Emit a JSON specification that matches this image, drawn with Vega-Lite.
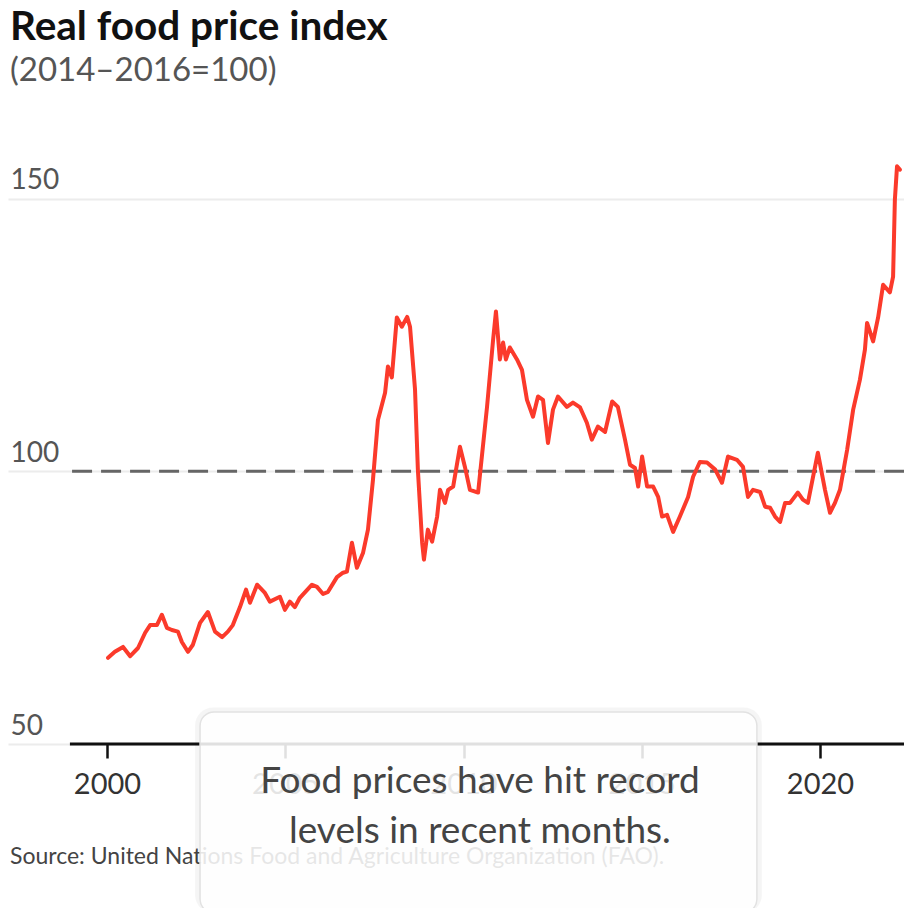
{
  "$schema": "https://vega.github.io/schema/vega-lite/v6.json",
  "autosize": "none",
  "width": 896,
  "height": 600,
  "padding": {"left": 8, "top": 144, "right": 0, "bottom": 164},
  "background": "white",
  "config": {
    "font": "Lato",
    "view": {"stroke": null},
    "axisX": {"ticks": true, "tickSize": 14, "tickWidth": 2.5, "tickColor": "#111111", "tickOpacity": 1, "tickCap": "butt"}
  },
  "title": {
    "text": "Real food price index",
    "subtitle": "(2014–2016=100)",
    "anchor": "start",
    "frame": "group",
    "dx": 2,
    "offset": 56,
    "font": "Lato",
    "fontSize": 40.5,
    "fontWeight": "bold",
    "color": "#111111",
    "subtitleFont": "Lato",
    "subtitleFontSize": 33,
    "subtitleColor": "#555555",
    "subtitlePadding": 7
  },
  "layer": [
    {
      "data": {"values": [{"level": 100}]},
      "mark": {"type": "rule", "color": "#666666", "strokeWidth": 3, "strokeDash": [20, 9]},
      "encoding": {
        "x": {"datum": 1999.02, "type": "quantitative", "scale": {"domain": [1997.223, 2022.356], "nice": false, "zero": false},
          "axis": {
            "title": null, "values": [2000, 2005, 2010, 2015, 2020], "format": "d",
            "domain": false, "grid": false,
            "ticks": true, "tickSize": 14, "tickWidth": 2.5, "tickColor": "#111111", "tickOpacity": 1,
            "labelFontSize": 29, "labelColor": "#333333", "labelPadding": 12, "labelFlush": false
          }},
        "x2": {"datum": 2022.356},
        "y": {"field": "level", "type": "quantitative", "scale": {"domain": [50, 160], "nice": false, "zero": false},
          "axis": {
            "title": null, "values": [50, 100, 150],
            "domain": false, "ticks": false,
            "grid": true, "gridColor": "#ececec", "gridWidth": 2,
            "labelAlign": "left", "labelBaseline": "alphabetic", "labelPadding": -2, "labelOffset": -10,
            "labelFontSize": 28, "labelColor": "#555555"
          }}
      }
    },
    {
      "data": {"values": [
        {"year": 2000.03, "index": 65.8}, {"year": 2000.22, "index": 66.9}, {"year": 2000.45, "index": 67.8}, {"year": 2000.65, "index": 66.1},
        {"year": 2000.87, "index": 67.6}, {"year": 2001.07, "index": 70.4}, {"year": 2001.21, "index": 71.8}, {"year": 2001.40, "index": 71.8},
        {"year": 2001.54, "index": 73.7}, {"year": 2001.68, "index": 71.3}, {"year": 2001.82, "index": 70.9}, {"year": 2001.99, "index": 70.6},
        {"year": 2002.10, "index": 68.7}, {"year": 2002.27, "index": 66.9}, {"year": 2002.41, "index": 68.2}, {"year": 2002.61, "index": 72.2},
        {"year": 2002.83, "index": 74.2}, {"year": 2003.03, "index": 70.6}, {"year": 2003.23, "index": 69.6}, {"year": 2003.39, "index": 70.6},
        {"year": 2003.53, "index": 71.8}, {"year": 2003.73, "index": 75.1}, {"year": 2003.90, "index": 78.3}, {"year": 2004.01, "index": 75.9},
        {"year": 2004.21, "index": 79.2}, {"year": 2004.43, "index": 77.7}, {"year": 2004.57, "index": 76.1}, {"year": 2004.85, "index": 77.0},
        {"year": 2004.99, "index": 74.6}, {"year": 2005.13, "index": 76.1}, {"year": 2005.27, "index": 75.1}, {"year": 2005.41, "index": 76.8},
        {"year": 2005.75, "index": 79.2}, {"year": 2005.89, "index": 78.8}, {"year": 2006.06, "index": 77.5}, {"year": 2006.20, "index": 77.9},
        {"year": 2006.45, "index": 80.6}, {"year": 2006.62, "index": 81.4}, {"year": 2006.73, "index": 81.6}, {"year": 2006.87, "index": 86.9},
        {"year": 2007.01, "index": 82.3}, {"year": 2007.18, "index": 85.0}, {"year": 2007.32, "index": 89.3}, {"year": 2007.46, "index": 98.4},
        {"year": 2007.60, "index": 109.4}, {"year": 2007.80, "index": 114.4}, {"year": 2007.88, "index": 119.2}, {"year": 2007.99, "index": 117.2},
        {"year": 2008.13, "index": 128.2}, {"year": 2008.27, "index": 126.5}, {"year": 2008.42, "index": 128.3}, {"year": 2008.50, "index": 126.5},
        {"year": 2008.64, "index": 115.0}, {"year": 2008.72, "index": 100.3}, {"year": 2008.84, "index": 86.9}, {"year": 2008.89, "index": 83.8},
        {"year": 2009.00, "index": 89.3}, {"year": 2009.12, "index": 87.1}, {"year": 2009.26, "index": 91.7}, {"year": 2009.34, "index": 96.6},
        {"year": 2009.48, "index": 94.2}, {"year": 2009.57, "index": 96.6}, {"year": 2009.71, "index": 97.2}, {"year": 2009.90, "index": 104.5},
        {"year": 2010.04, "index": 100.8}, {"year": 2010.18, "index": 96.6}, {"year": 2010.41, "index": 96.1}, {"year": 2010.66, "index": 111.8},
        {"year": 2010.83, "index": 124.1}, {"year": 2010.91, "index": 129.3}, {"year": 2011.02, "index": 120.5}, {"year": 2011.11, "index": 123.6},
        {"year": 2011.19, "index": 120.5}, {"year": 2011.30, "index": 122.7}, {"year": 2011.50, "index": 120.5}, {"year": 2011.64, "index": 118.6},
        {"year": 2011.78, "index": 113.1}, {"year": 2011.95, "index": 110.0}, {"year": 2012.09, "index": 113.7}, {"year": 2012.23, "index": 113.1},
        {"year": 2012.37, "index": 105.2}, {"year": 2012.51, "index": 111.3}, {"year": 2012.65, "index": 113.7}, {"year": 2012.90, "index": 111.8},
        {"year": 2013.07, "index": 112.6}, {"year": 2013.27, "index": 111.7}, {"year": 2013.46, "index": 108.9}, {"year": 2013.60, "index": 105.8},
        {"year": 2013.77, "index": 108.2}, {"year": 2013.97, "index": 107.2}, {"year": 2014.17, "index": 112.8}, {"year": 2014.33, "index": 111.8},
        {"year": 2014.53, "index": 105.8}, {"year": 2014.67, "index": 101.2}, {"year": 2014.81, "index": 100.6}, {"year": 2014.90, "index": 97.2},
        {"year": 2015.01, "index": 102.7}, {"year": 2015.15, "index": 97.2}, {"year": 2015.32, "index": 97.2}, {"year": 2015.46, "index": 95.3},
        {"year": 2015.57, "index": 91.7}, {"year": 2015.71, "index": 92.0}, {"year": 2015.88, "index": 88.9}, {"year": 2016.07, "index": 91.7},
        {"year": 2016.30, "index": 95.3}, {"year": 2016.44, "index": 99.0}, {"year": 2016.63, "index": 101.7}, {"year": 2016.83, "index": 101.6},
        {"year": 2017.06, "index": 100.3}, {"year": 2017.25, "index": 97.9}, {"year": 2017.42, "index": 102.7}, {"year": 2017.67, "index": 102.1},
        {"year": 2017.84, "index": 100.8}, {"year": 2017.98, "index": 95.3}, {"year": 2018.12, "index": 96.6}, {"year": 2018.32, "index": 96.2},
        {"year": 2018.46, "index": 93.5}, {"year": 2018.60, "index": 93.3}, {"year": 2018.74, "index": 91.7}, {"year": 2018.88, "index": 90.7},
        {"year": 2019.02, "index": 94.2}, {"year": 2019.16, "index": 94.2}, {"year": 2019.38, "index": 96.1}, {"year": 2019.52, "index": 94.8},
        {"year": 2019.66, "index": 94.2}, {"year": 2019.94, "index": 103.4}, {"year": 2020.14, "index": 96.6}, {"year": 2020.28, "index": 92.4},
        {"year": 2020.42, "index": 94.2}, {"year": 2020.56, "index": 96.6}, {"year": 2020.76, "index": 103.9}, {"year": 2020.93, "index": 111.3},
        {"year": 2021.12, "index": 116.8}, {"year": 2021.26, "index": 122.3}, {"year": 2021.32, "index": 127.2}, {"year": 2021.49, "index": 123.8},
        {"year": 2021.63, "index": 128.2}, {"year": 2021.77, "index": 134.2}, {"year": 2021.96, "index": 132.8}, {"year": 2022.05, "index": 135.7},
        {"year": 2022.10, "index": 149.8}, {"year": 2022.16, "index": 155.9}, {"year": 2022.24, "index": 155.3}
      ]},
      "mark": {"type": "line", "color": "#fb3a2b", "strokeWidth": 4, "strokeJoin": "round", "strokeCap": "round"},
      "encoding": {
        "x": {"field": "year", "type": "quantitative"},
        "y": {"field": "index", "type": "quantitative"}
      }
    },
    {
      "data": {"values": [{"level": 50}]},
      "mark": {"type": "rule", "color": "#111111", "strokeWidth": 3},
      "encoding": {
        "x": {"datum": 1998.96, "type": "quantitative"},
        "x2": {"datum": 2022.356},
        "y": {"field": "level", "type": "quantitative"}
      }
    },
    {
      "data": {"values": [{"note": "Source: United Nations Food and Agriculture Organization (FAO)."}]},
      "mark": {"type": "text", "align": "left", "baseline": "middle", "fontSize": 23, "color": "#444444", "clip": false},
      "encoding": {
        "text": {"field": "note"},
        "x": {"datum": 1997.28, "type": "quantitative"},
        "y": {"datum": 29.3, "type": "quantitative"}
      }
    },
    {
      "data": {"values": [{"note": "shadow"}]},
      "mark": {"type": "rect", "fill": "#000000", "fillOpacity": 0.04, "cornerRadius": 18, "clip": false},
      "encoding": {
        "x": {"datum": 2002.47, "type": "quantitative"},
        "x2": {"datum": 2018.37},
        "y": {"datum": 56.7, "type": "quantitative"},
        "y2": {"datum": 19}
      }
    },
    {
      "data": {"values": [{"note": "box"}]},
      "mark": {"type": "rect", "fill": "white", "fillOpacity": 0.87, "stroke": "#e2e2e2", "strokeWidth": 1.5, "cornerRadius": 14, "clip": false},
      "encoding": {
        "x": {"datum": 2002.61, "type": "quantitative"},
        "x2": {"datum": 2018.23},
        "y": {"datum": 55.87, "type": "quantitative"},
        "y2": {"datum": 19}
      }
    },
    {
      "data": {"values": [{"note": "callout"}]},
      "mark": {"type": "text", "text": ["Food prices have hit record", "levels in recent months."], "align": "center", "baseline": "middle", "lineHeight": 50, "fontSize": 37, "color": "#444444", "clip": false},
      "encoding": {
        "x": {"datum": 2010.46, "type": "quantitative"},
        "y": {"datum": 43.1, "type": "quantitative"}
      }
    }
  ]
}
